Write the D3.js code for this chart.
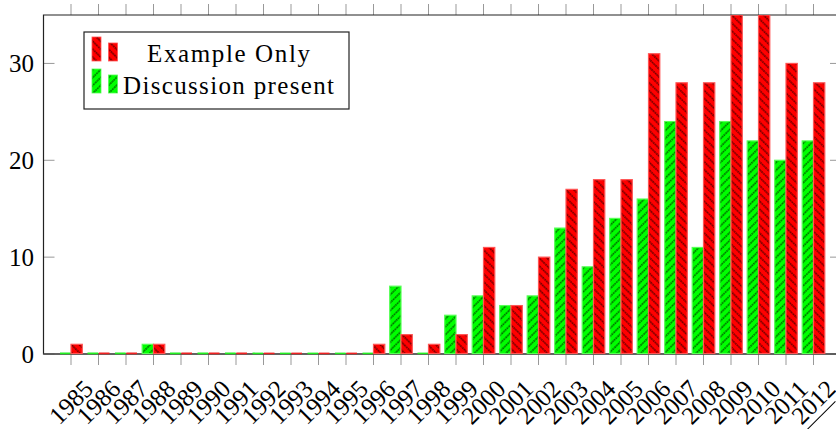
<!DOCTYPE html>
<html><head><meta charset="utf-8">
<script src="https://cdn.jsdelivr.net/npm/d3@7"></script>
<style>
html,body{margin:0;padding:0;background:#fff;}
svg{display:block;}
text{font-family:"Liberation Serif","Times New Roman",serif;fill:#000;}
</style></head>
<body>
<script>
const years = [1985,1986,1987,1988,1989,1990,1991,1992,1993,1994,1995,1996,1997,1998,1999,2000,2001,2002,2003,2004,2005,2006,2007,2008,2009,2010,2011,2012];
const exampleOnly = [1,0,0,1,0,0,0,0,0,0,0,1,2,1,2,11,5,10,17,18,18,31,28,28,35,35,30,28];
const discussionPresent = [0,0,0,1,0,0,0,0,0,0,0,0,7,0,4,6,5,6,13,9,14,16,24,11,24,22,20,22];
const yTicks = [0,10,20,30];
const seriesNames = ["Example Only","Discussion present"];

(function(){
const W = 836, H = 429;
const svg = d3.select("body").append("svg").attr("width", W).attr("height", H);
const defs = svg.append("defs");

function makePattern(id, color, angle){
  const p = defs.append("pattern").attr("id", id)
    .attr("patternUnits","userSpaceOnUse").attr("width",5.6).attr("height",10)
    .attr("patternTransform",`rotate(${angle})`);
  p.append("rect").attr("width",5.6).attr("height",10).attr("fill",color);
  p.append("line").attr("x1",2.8).attr("y1",0).attr("x2",2.8).attr("y2",10)
    .attr("stroke","#000").attr("stroke-width",1).attr("stroke-dasharray","1.6,0.8");
}
makePattern("pRed","#ff0000",-45);
makePattern("pGreen","#00ff00",45);

const pL = 43.5, pR = 841, pT = 15, pB = 354;
const x = d3.scaleLinear().domain([1984, 2013]).range([pL, pR]);
const y = d3.scaleLinear().domain([0, 35]).range([pB, pT]);
const barW = 11.3;

defs.append("clipPath").attr("id","plotClip").append("rect")
  .attr("x",pL).attr("y",pT).attr("width",pR-pL).attr("height",pB-pT+3);

const tickCol = "#999";
svg.append("g").selectAll("line").data(years).join("line")
  .attr("x1",d=>x(d)).attr("x2",d=>x(d)).attr("y1",pB).attr("y2",pB+11)
  .attr("stroke",tickCol).attr("stroke-width",1);
svg.append("g").selectAll("line").data(years).join("line")
  .attr("x1",d=>x(d)).attr("x2",d=>x(d)).attr("y1",pT).attr("y2",pT-11)
  .attr("stroke",tickCol).attr("stroke-width",1);
svg.append("g").selectAll("line").data(yTicks).join("line")
  .attr("x1",pL).attr("x2",pL+11).attr("y1",d=>y(d)).attr("y2",d=>y(d))
  .attr("stroke",tickCol).attr("stroke-width",1);
svg.append("g").selectAll("line").data(yTicks).join("line")
  .attr("x1",pR-11).attr("x2",pR).attr("y1",d=>y(d)).attr("y2",d=>y(d))
  .attr("stroke",tickCol).attr("stroke-width",1);

svg.append("path")
  .attr("d",`M${pR},${pB}H${pL}V${pT}H${pR}V${pB}`)
  .attr("fill","none").attr("stroke","#222").attr("stroke-width",1.2);
svg.append("line").attr("x1",pL).attr("x2",pR).attr("y1",pB).attr("y2",pB)
  .attr("stroke","#555").attr("stroke-width",1.6);

const plot = svg.append("g").attr("clip-path","url(#plotClip)");
const series = [
  {vals:discussionPresent, off:-barW, fill:"url(#pGreen)", stroke:"#55ff55", flat:"#22ee22"},
  {vals:exampleOnly, off:0, fill:"url(#pRed)", stroke:"#ff5555", flat:"#ee2222"}
];
series.forEach(s=>{
  const g = plot.append("g");
  g.selectAll("rect").data(years.filter((d,i)=>s.vals[i]>0)).join("rect")
    .attr("x",d=>x(d)+s.off).attr("width",barW)
    .attr("y",d=>y(s.vals[years.indexOf(d)]))
    .attr("height",d=>y(0)-0.5-y(s.vals[years.indexOf(d)]))
    .attr("fill",s.fill).attr("stroke",s.stroke).attr("stroke-width",1.2);
  g.selectAll("line").data(years.filter((d,i)=>s.vals[i]===0)).join("line")
    .attr("x1",d=>x(d)+s.off+0.3).attr("x2",d=>x(d)+s.off+barW-0.3)
    .attr("y1",y(0)-0.6).attr("y2",y(0)-0.6)
    .attr("stroke",s.flat).attr("stroke-width",1.6);
});

svg.append("g").selectAll("text").data(yTicks).join("text")
  .attr("x",34).attr("y",d=>y(d)).attr("dy","0.34em")
  .attr("text-anchor","end").attr("font-size",25).text(d=>d);

const xl = svg.append("g").selectAll("g").data(years).join("g")
  .attr("transform",d=>`translate(${x(d)},402) rotate(-45)`);
xl.append("text").attr("text-anchor","middle").attr("dy","0.34em")
  .attr("font-size",25).text(d=>d);
xl.filter(d=>d===years[years.length-1]).append("line")
  .attr("x1",-29).attr("x2",16).attr("y1",15).attr("y2",15)
  .attr("stroke","#000").attr("stroke-width",1);

const lg = svg.append("g");
lg.append("rect").attr("x",84).attr("y",32).attr("width",265).attr("height",77)
  .attr("fill","#fff").attr("stroke","#222").attr("stroke-width",1.2);
const legendRows = [
  {name:seriesNames[0], fill:"url(#pRed)", stroke:"#ff5555", base:61, len:163},
  {name:seriesNames[1], fill:"url(#pGreen)", stroke:"#55ff55", base:93, len:211}
];
legendRows.forEach(r=>{
  lg.append("rect").attr("x",92).attr("y",r.base-24).attr("width",9).attr("height",24)
    .attr("fill",r.fill).attr("stroke",r.stroke).attr("stroke-width",0.8);
  lg.append("rect").attr("x",108.5).attr("y",r.base-18).attr("width",9).attr("height",18)
    .attr("fill",r.fill).attr("stroke",r.stroke).attr("stroke-width",0.8);
  lg.append("text").attr("x",228.5 - r.len/2).attr("y",r.base+1)
    .attr("textLength",r.len).attr("lengthAdjust","spacing")
    .attr("font-size",25).text(r.name);
});
})();
</script>
</body></html>
